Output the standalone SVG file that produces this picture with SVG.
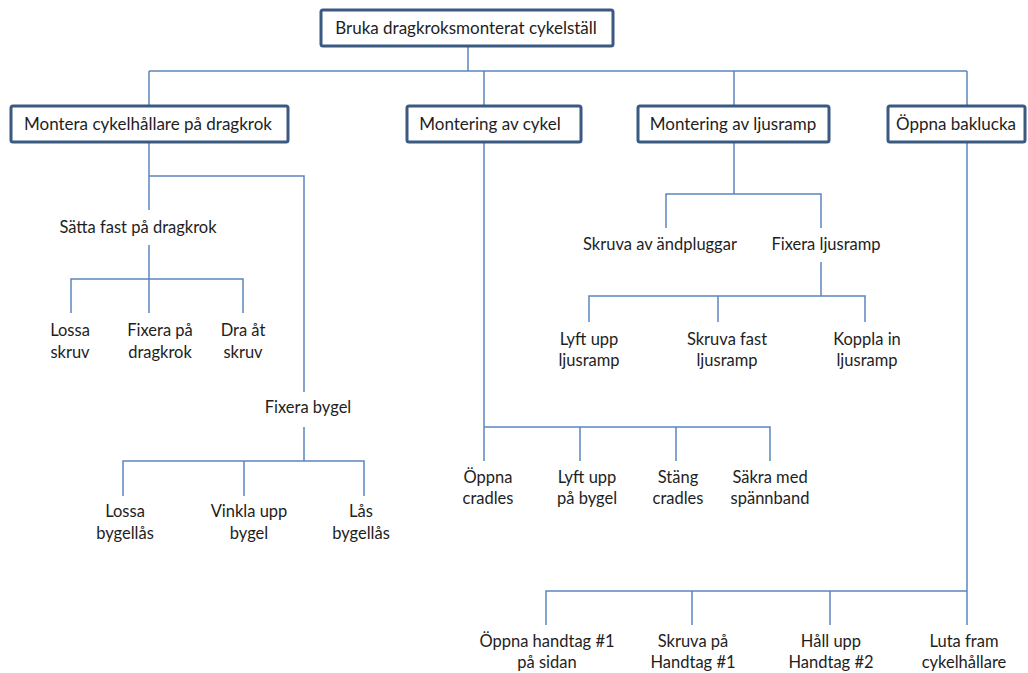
<svg xmlns="http://www.w3.org/2000/svg" width="1028" height="673" viewBox="0 0 1028 673">
<style>
.box{fill:#fff;stroke:#3b5a82;stroke-width:3}
.t{font-family:Lato,"Liberation Sans",sans-serif;fill:#1e1e1e;text-anchor:middle}
.b{font-size:17px}
.l{font-size:16.5px}
.c{fill:none;stroke:#5a86bf;stroke-width:1.5}
</style>
<rect width="1028" height="673" fill="#fff"/>
<g id="connectors" class="c">
<path d="M468 46V71M149 71H967M149 71V106M484 71V106M734 71V106M967 71V106"/>
<path d="M149 142V210M149 176H304V392M149 245V313M71 313V279H243V313"/>
<path d="M304 427V461M123 496V461H364V496M244 461V496"/>
<path d="M484 142V461M484 427H770V461M580 427V461M676 427V461"/>
<path d="M734 142V194M666 228V194H821V228"/>
<path d="M821 262V296M589 322V296H865V322M718 296V322"/>
<path d="M967 142V625M546 625V591H967M692 591V625M830 591V625"/>
</g>
<g id="root"><rect class="box" x="321" y="10" width="292" height="36" rx="2"/><text class="t b" x="466" y="34">Bruka dragkroksmonterat cykelställ</text></g>
<g id="n1"><rect class="box" x="11" y="106" width="277" height="36" rx="2"/><text class="t b" x="148" y="130">Montera cykelhållare på dragkrok</text></g>
<g id="n2"><rect class="box" x="407" y="106" width="174" height="36" rx="2"/><text class="t b" x="490" y="130">Montering av cykel</text></g>
<g id="n3"><rect class="box" x="638" y="106" width="191" height="36" rx="2"/><text class="t b" x="733" y="130">Montering av ljusramp</text></g>
<g id="n4"><rect class="box" x="888" y="106" width="137" height="36" rx="2"/><text class="t b" x="956" y="130">Öppna baklucka</text></g>
<g id="n1a"><text class="t l" x="138" y="233">Sätta fast på dragkrok</text></g>
<g id="n1a1"><text class="t l" x="70" y="336">Lossa</text><text class="t l" x="70" y="358">skruv</text></g>
<g id="n1a2"><text class="t l" x="160" y="336">Fixera på</text><text class="t l" x="160" y="358">dragkrok</text></g>
<g id="n1a3"><text class="t l" x="243" y="336">Dra åt</text><text class="t l" x="243" y="358">skruv</text></g>
<g id="n1b"><text class="t l" x="308" y="413">Fixera bygel</text></g>
<g id="n1b1"><text class="t l" x="125" y="517">Lossa</text><text class="t l" x="125" y="539">bygellås</text></g>
<g id="n1b2"><text class="t l" x="249" y="517">Vinkla upp</text><text class="t l" x="249" y="539">bygel</text></g>
<g id="n1b3"><text class="t l" x="361" y="517">Lås</text><text class="t l" x="361" y="539">bygellås</text></g>
<g id="n2a"><text class="t l" x="488" y="483">Öppna</text><text class="t l" x="488" y="504">cradles</text></g>
<g id="n2b"><text class="t l" x="587" y="483">Lyft upp</text><text class="t l" x="587" y="504">på bygel</text></g>
<g id="n2c"><text class="t l" x="678" y="483">Stäng</text><text class="t l" x="678" y="504">cradles</text></g>
<g id="n2d"><text class="t l" x="770" y="483">Säkra med</text><text class="t l" x="770" y="504">spännband</text></g>
<g id="n3a"><text class="t l" x="660" y="250">Skruva av ändpluggar</text></g>
<g id="n3b"><text class="t l" x="826" y="250">Fixera ljusramp</text></g>
<g id="n3b1"><text class="t l" x="589" y="345">Lyft upp</text><text class="t l" x="589" y="366">ljusramp</text></g>
<g id="n3b2"><text class="t l" x="727" y="345">Skruva fast</text><text class="t l" x="727" y="366">ljusramp</text></g>
<g id="n3b3"><text class="t l" x="867" y="345">Koppla in</text><text class="t l" x="867" y="366">ljusramp</text></g>
<g id="n4a"><text class="t l" x="547" y="647">Öppna handtag #1</text><text class="t l" x="547" y="668">på sidan</text></g>
<g id="n4b"><text class="t l" x="693" y="647">Skruva på</text><text class="t l" x="693" y="668">Handtag #1</text></g>
<g id="n4c"><text class="t l" x="831" y="647">Håll upp</text><text class="t l" x="831" y="668">Handtag #2</text></g>
<g id="n4d"><text class="t l" x="964" y="647">Luta fram</text><text class="t l" x="964" y="668">cykelhållare</text></g>
</svg>
